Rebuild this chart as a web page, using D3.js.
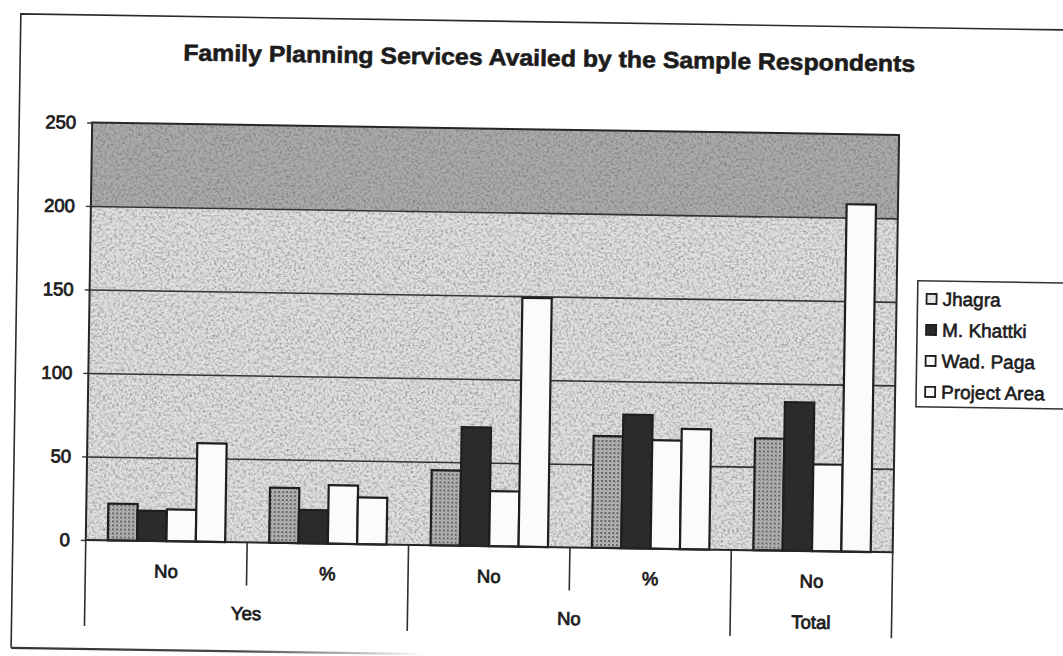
<!DOCTYPE html>
<html>
<head>
<meta charset="utf-8">
<script src="https://cdn.jsdelivr.net/npm/d3@7"></script>
<style>
  html, body { margin: 0; padding: 0; background: #fff; }
  svg { display: block; }
</style>
</head>
<body>
<svg id="chart" width="1063" height="656"></svg>
<script>
// ---- data ----
const title = "Family Planning Services Availed by the Sample Respondents";
const categories = ["No", "%", "No", "%", "No"];
const categoryGroups = ["Yes", "Yes", "No", "No", "Total"];
const seriesNames = ["Jhagra", "M. Khattki", "Wad. Paga", "Project Area"];
const jhagra = [22, 33, 45, 67, 67];
const khattki = [18, 20, 71, 80, 89];
const wadPaga = [19, 35, 33, 65, 52];
const projectArea = [59, 28, 149, 72, 208];
const yTicks = [0, 50, 100, 150, 200, 250];

const seriesValues = [jhagra, khattki, wadPaga, projectArea];

// ---- layout ----
const W = 1063, H = 656;
const plot = { left: 89, right: 896, top: 122.5, bottom: 540 };
const ink = "#1c1c1c";
const fontFamily = "'Liberation Sans', Arial, sans-serif";

const svg = d3.select("#chart");
const defs = svg.append("defs");

// speckled grey fill used for the Jhagra bars
const pat = defs.append("pattern").attr("id", "jhagraFill")
  .attr("width", 4).attr("height", 4).attr("patternUnits", "userSpaceOnUse");
pat.append("rect").attr("width", 4).attr("height", 4).attr("fill", "#b4b4b4");
pat.append("rect").attr("width", 2).attr("height", 2).attr("fill", "#666");
pat.append("rect").attr("x", 2).attr("y", 2).attr("width", 1).attr("height", 1).attr("fill", "#858585");

// grainy texture for the plot background
const grain = defs.append("filter").attr("id", "grain")
  .attr("x", 0).attr("y", 0).attr("width", "100%").attr("height", "100%");
grain.append("feTurbulence").attr("type", "fractalNoise")
  .attr("baseFrequency", 0.45).attr("numOctaves", 3).attr("seed", 7).attr("result", "n");
grain.append("feColorMatrix").attr("type", "matrix")
  .attr("values", "0 0 0 0 0.1  0 0 0 0 0.1  0 0 0 0 0.1  1.8 0 0 0 -0.78");

// fade for the lower frame edge
const fade = defs.append("linearGradient").attr("id", "bottomFade")
  .attr("gradientUnits", "userSpaceOnUse").attr("x1", 16).attr("x2", 430).attr("y1", 0).attr("y2", 0);
fade.append("stop").attr("offset", "0").attr("stop-color", "#333").attr("stop-opacity", 1);
fade.append("stop").attr("offset", "0.55").attr("stop-color", "#333").attr("stop-opacity", 0.9);
fade.append("stop").attr("offset", "1").attr("stop-color", "#333").attr("stop-opacity", 0);

const clip = defs.append("clipPath").attr("id", "plotClip");
clip.append("rect").attr("x", plot.left).attr("y", plot.top)
  .attr("width", plot.right - plot.left).attr("height", plot.bottom - plot.top);

// whole page is slightly tilted
const root = svg.append("g").attr("transform", "rotate(0.88, 90, 330)");

// ---- frame ----
root.append("path")
  .attr("d", `M${W + 20},15 L16,15 L16,649`)
  .attr("fill", "none").attr("stroke", "#2a2a2a").attr("stroke-width", 1.6);
root.append("line")
  .attr("x1", 16).attr("x2", 430).attr("y1", 649).attr("y2", 649)
  .attr("stroke", "url(#bottomFade)").attr("stroke-width", 2.2);

// ---- title ----
root.append("text")
  .attr("x", 545).attr("y", 59)
  .attr("text-anchor", "middle")
  .attr("font-family", fontFamily).attr("font-weight", "bold").attr("font-size", 23)
  .attr("fill", ink).attr("stroke", ink).attr("stroke-width", 0.6)
  .attr("textLength", 732).attr("lengthAdjust", "spacingAndGlyphs")
  .text(title);

// ---- scales ----
const n = categories.length;
const padIn = 1.5 / 5.5;
const x0 = d3.scaleBand().domain(d3.range(n)).range([plot.left, plot.right])
  .paddingInner(padIn).paddingOuter(padIn / 2);
const x1 = d3.scaleBand().domain(seriesNames).range([0, x0.bandwidth()]);
const y = d3.scaleLinear().domain([0, 250]).range([plot.bottom, plot.top]);
const step = x0.step();

// ---- plot background ----
const bg = root.append("g").attr("clip-path", "url(#plotClip)");
bg.append("rect").attr("x", plot.left).attr("y", y(200))
  .attr("width", plot.right - plot.left).attr("height", y(0) - y(200)).attr("fill", "#e0e0e0");
bg.append("rect").attr("x", plot.left).attr("y", y(250))
  .attr("width", plot.right - plot.left).attr("height", y(200) - y(250)).attr("fill", "#ababab");
bg.append("rect").attr("x", plot.left).attr("y", plot.top)
  .attr("width", plot.right - plot.left).attr("height", plot.bottom - plot.top)
  .attr("filter", "url(#grain)").attr("opacity", 0.8);

// gridlines
root.append("g")
  .attr("transform", `translate(${plot.left},0)`)
  .call(d3.axisLeft(y).tickValues(yTicks.filter(v => v > 0 && v < 250))
    .tickSize(-(plot.right - plot.left)).tickFormat(""))
  .call(g => g.select(".domain").remove())
  .call(g => g.selectAll(".tick line").attr("stroke", "#333").attr("stroke-width", 1.6));

// ---- bars ----
const rows = d3.range(n).map(i => ({
  i,
  values: seriesNames.map((s, k) => ({ series: s, k, value: seriesValues[k][i] }))
}));
const fills = ["url(#jhagraFill)", "#2b2b2b", "#fbfbfb", "#fbfbfb"];

root.append("g").selectAll("g")
  .data(rows).join("g")
  .attr("transform", d => `translate(${x0(d.i)},0)`)
  .selectAll("rect")
  .data(d => d.values).join("rect")
  .attr("x", d => x1(d.series))
  .attr("y", d => y(d.value))
  .attr("width", x1.bandwidth())
  .attr("height", d => y(0) - y(d.value))
  .attr("fill", d => fills[d.k])
  .attr("stroke", "#1e1e1e").attr("stroke-width", 2.2);

// plot border
root.append("rect")
  .attr("x", plot.left).attr("y", plot.top)
  .attr("width", plot.right - plot.left).attr("height", plot.bottom - plot.top)
  .attr("fill", "none").attr("stroke", "#262626").attr("stroke-width", 2);

// ---- y axis ----
root.append("g")
  .attr("transform", `translate(${plot.left},0)`)
  .call(d3.axisLeft(y).tickValues(yTicks).tickSize(5).tickPadding(11))
  .call(g => g.select(".domain").remove())
  .call(g => g.selectAll(".tick line").attr("stroke", "#333").attr("stroke-width", 1.4))
  .call(g => g.selectAll(".tick text")
    .attr("font-family", fontFamily).attr("font-size", 18.5)
    .attr("fill", ink).attr("stroke", ink).attr("stroke-width", 0.8));

// ---- category axis (two levels) ----
const catAxis = root.append("g");
const shortEnd = 583, longEnd = 626;
d3.range(n + 1).forEach(i => {
  const isLong = i === 0 || i === n || categoryGroups[i] !== categoryGroups[i - 1];
  catAxis.append("line")
    .attr("x1", plot.left + i * step).attr("x2", plot.left + i * step)
    .attr("y1", plot.bottom).attr("y2", isLong ? longEnd : shortEnd)
    .attr("stroke", "#2e2e2e").attr("stroke-width", 1.6);
});

catAxis.selectAll("text.cat")
  .data(categories).join("text").attr("class", "cat")
  .attr("x", (d, i) => x0(i) + x0.bandwidth() / 2)
  .attr("y", 570).attr("dy", "0.35em")
  .attr("text-anchor", "middle")
  .attr("font-family", fontFamily).attr("font-size", 18.5)
  .attr("fill", ink).attr("stroke", ink).attr("stroke-width", 0.8)
  .text(d => d);

const groupNames = Array.from(new Set(categoryGroups));
const groupCenters = groupNames.map(g => {
  const idx = d3.range(n).filter(i => categoryGroups[i] === g);
  return { name: g, x: d3.mean(idx, i => x0(i) + x0.bandwidth() / 2) };
});
catAxis.selectAll("text.grp")
  .data(groupCenters).join("text").attr("class", "grp")
  .attr("x", d => d.x)
  .attr("y", 611).attr("dy", "0.35em")
  .attr("text-anchor", "middle")
  .attr("font-family", fontFamily).attr("font-size", 18.5)
  .attr("fill", ink).attr("stroke", ink).attr("stroke-width", 0.8)
  .text(d => d.name);

// ---- legend ----
const legend = root.append("g").attr("transform", "translate(917,268)");
legend.append("rect")
  .attr("x", 0).attr("y", 0).attr("width", 170).attr("height", 126)
  .attr("fill", "#fff").attr("stroke", "#333").attr("stroke-width", 1.6);
const legendFills = ["#e6e6e6", "#2b2b2b", "#fbfbfb", "#fbfbfb"];
const li = legend.selectAll("g.item").data(seriesNames).join("g").attr("class", "item")
  .attr("transform", (d, i) => `translate(0,${18 + i * 31})`);
li.append("rect")
  .attr("x", 9).attr("y", -5).attr("width", 10).attr("height", 10)
  .attr("fill", (d, i) => legendFills[i])
  .attr("stroke", "#1e1e1e").attr("stroke-width", 1.8);
li.append("text")
  .attr("x", 25).attr("y", 0).attr("dy", "0.35em")
  .attr("font-family", fontFamily).attr("font-size", 19)
  .attr("fill", ink).attr("stroke", ink).attr("stroke-width", 0.6)
  .text(d => d);
</script>
</body>
</html>
